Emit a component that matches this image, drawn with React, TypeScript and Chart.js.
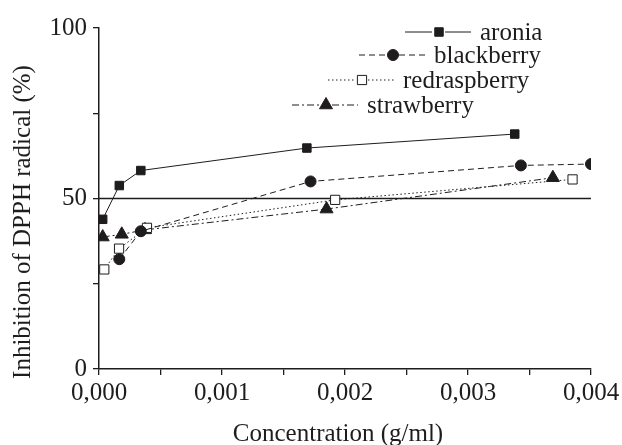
import React, { useEffect, useRef } from "react";
import { Chart, registerables } from "chart.js";

Chart.register(...registerables);

const seriesNames = ["aronia", "blackberry", "redraspberry", "strawberry"];

const aroniaX = [0.00003, 0.000165, 0.00034, 0.00169, 0.00338];
const aroniaY = [43.9, 53.8, 58.2, 64.8, 68.9];

const blackberryX = [0.000165, 0.00034, 0.00172, 0.00343, 0.004];
const blackberryY = [32.2, 40.4, 55.0, 59.7, 60.1];

const redraspberryX = [0.000043, 0.000163, 0.00039, 0.00192, 0.00385];
const redraspberryY = [29.2, 35.3, 41.4, 49.6, 55.6];

const strawberryX = [0.00003, 0.000185, 0.000374, 0.00185, 0.00369];
const strawberryY = [38.7, 39.5, 40.8, 46.9, 56.1];

const refLineX = [0, 0.004];
const refLineY = [50, 50];

const xTitle = "Concentration (g/ml)";
const yTitle = "Inhibition of DPPH radical (%)";

const FONT = "'Liberation Serif', 'Times New Roman', serif";
const INK = "#1f1c1d";

const pts = (xs: number[], ys: number[]) => xs.map((x, i) => ({ x, y: ys[i] }));

const legendRows = [
  { mx: 439, my: 32 },
  { mx: 393, my: 55 },
  { mx: 362, my: 80 },
  { mx: 326, my: 105 },
];

function markerPath(ctx: CanvasRenderingContext2D, style: string, r: number, x: number, y: number) {
  ctx.beginPath();
  if (style === "rect") {
    const s = Math.SQRT1_2 * r;
    ctx.rect(x - s, y - s, 2 * s, 2 * s);
  } else if (style === "circle") {
    ctx.arc(x, y, r, 0, Math.PI * 2);
  } else if (style === "triangle") {
    const rad = -Math.PI / 2;
    ctx.moveTo(x + Math.cos(rad) * r, y + Math.sin(rad) * r);
    ctx.lineTo(x + Math.cos(rad + (2 * Math.PI) / 3) * r, y + Math.sin(rad + (2 * Math.PI) / 3) * r);
    ctx.lineTo(x + Math.cos(rad + (4 * Math.PI) / 3) * r, y + Math.sin(rad + (4 * Math.PI) / 3) * r);
  }
  ctx.closePath();
}

const customPlugin = {
  id: "customDecor",
  afterDraw(chart: any) {
    const ctx = chart.ctx as CanvasRenderingContext2D;
    ctx.save();
    ctx.fillStyle = INK;
    ctx.font = `25px ${FONT}`;
    ctx.textAlign = "center";
    ctx.textBaseline = "alphabetic";
    ctx.fillText(xTitle, 338, 441);
    ctx.save();
    ctx.translate(30, 222);
    ctx.rotate(-Math.PI / 2);
    ctx.fillText(yTitle, 0, 0);
    ctx.restore();
    for (let i = 0; i < 4; i++) {
      const ds = chart.data.datasets[i];
      const { mx, my } = legendRows[i];
      ctx.strokeStyle = INK;
      ctx.lineWidth = 1;
      ctx.setLineDash(ds.borderDash || []);
      ctx.beginPath();
      ctx.moveTo(mx - 34, my);
      ctx.lineTo(mx - 7, my);
      ctx.moveTo(mx + 6, my);
      ctx.lineTo(mx + 32, my);
      ctx.stroke();
      ctx.setLineDash([]);
      markerPath(ctx, ds.pointStyle, ds.pointRadius, mx, my);
      ctx.fillStyle = ds.pointBackgroundColor;
      ctx.fill();
      ctx.lineWidth = ds.pointBorderWidth ?? 1;
      ctx.stroke();
      ctx.fillStyle = INK;
      ctx.textAlign = "left";
      ctx.textBaseline = "middle";
      ctx.fillText(seriesNames[i], mx + 41, my + 1);
    }
    ctx.restore();
  },
};

export default function App() {
  const ref = useRef<HTMLCanvasElement>(null);
  useEffect(() => {
    if (!ref.current) return;
    const common = {
      borderColor: INK,
      borderWidth: 1,
      tension: 0,
      fill: false,
      pointBorderColor: INK,
    };
    const chart = new Chart(ref.current, {
      type: "line",
      data: {
        datasets: [
          {
            ...common,
            label: seriesNames[0],
            data: pts(aroniaX, aroniaY),
            borderDash: [],
            pointStyle: "rect",
            pointRadius: 6,
            pointBackgroundColor: INK,
            pointBorderWidth: 1,
          },
          {
            ...common,
            label: seriesNames[1],
            data: pts(blackberryX, blackberryY),
            borderDash: [6, 4],
            pointStyle: "circle",
            pointRadius: 5.5,
            pointBackgroundColor: INK,
            pointBorderWidth: 1,
          },
          {
            ...common,
            label: seriesNames[2],
            data: pts(redraspberryX, redraspberryY),
            borderDash: [1.5, 2.5],
            pointStyle: "rect",
            pointRadius: 6.5,
            pointBackgroundColor: "#ffffff",
            pointBorderWidth: 1,
          },
          {
            ...common,
            label: seriesNames[3],
            data: pts(strawberryX, strawberryY),
            borderDash: [7, 3, 2, 3],
            pointStyle: "triangle",
            pointRadius: 7.5,
            pointBackgroundColor: INK,
            pointBorderWidth: 1,
          },
          {
            label: "ref",
            data: pts(refLineX, refLineY),
            borderColor: INK,
            borderWidth: 1.3,
            pointRadius: 0,
            tension: 0,
            fill: false,
            order: 10,
          } as any,
        ],
      },
      options: {
        animation: false,
        responsive: false,
        maintainAspectRatio: false,
        layout: { padding: { top: 28, right: 31, left: 0, bottom: 0 } },
        plugins: {
          legend: { display: false },
          tooltip: { enabled: false },
          title: { display: false },
        },
        scales: {
          x: {
            type: "linear",
            min: 0,
            max: 0.004,
            afterFit: (s: any) => {
              s.height = 76;
              s.paddingLeft = 0;
              s.paddingRight = 0;
            },
            border: { display: true, color: INK, width: 1.5 },
            grid: {
              drawOnChartArea: false,
              drawTicks: true,
              tickLength: 6,
              color: INK,
              lineWidth: 1.3,
            },
            ticks: {
              stepSize: 0.0005,
              autoSkip: false,
              maxRotation: 0,
              padding: 3,
              color: INK,
              font: { family: FONT, size: 25 },
              callback: (v: any) => {
                const n = Math.round(Number(v) * 10000);
                if (n % 10 !== 0) return "";
                return (n / 10000).toFixed(3).replace(".", ",");
              },
            },
          },
          y: {
            type: "linear",
            min: 0,
            max: 100,
            afterFit: (s: any) => {
              s.width = 99;
            },
            border: { display: true, color: INK, width: 1.5 },
            grid: {
              drawOnChartArea: false,
              drawTicks: true,
              tickLength: 6,
              color: INK,
              lineWidth: 1.3,
            },
            ticks: {
              stepSize: 25,
              autoSkip: false,
              padding: 6,
              color: INK,
              font: { family: FONT, size: 25 },
              callback: (v: any) => (Number(v) % 50 === 0 ? String(v) : ""),
            },
          },
        },
      },
      plugins: [customPlugin],
    });
    return () => chart.destroy();
  }, []);
  return (
    <div style={{ position: "fixed", left: 0, top: 0, width: 622, height: 445, background: "#fff" }}>
      <canvas ref={ref} width={622} height={445} style={{ width: 622, height: 445 }} />
    </div>
  );
}
